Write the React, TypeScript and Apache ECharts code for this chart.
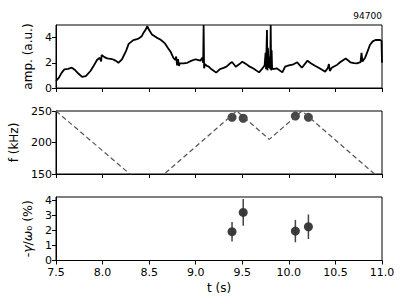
import React, { useEffect, useRef } from "react";
import * as echarts from "echarts";

const ampT = [7.5,7.53,7.56,7.59,7.63,7.67,7.70,7.74,7.78,7.82,7.87,7.90,7.94,7.97,7.985,7.99,8.02,8.05,8.10,8.14,8.17,8.21,8.25,8.28,8.33,8.36,8.39,8.42,8.44,8.46,8.48,8.50,8.53,8.58,8.62,8.67,8.70,8.73,8.76,8.78,8.79,8.80,8.81,8.82,8.83,8.87,8.91,8.95,9.0,9.05,9.07,9.08,9.085,9.09,9.10,9.12,9.14,9.17,9.22,9.26,9.30,9.33,9.36,9.39,9.43,9.47,9.50,9.54,9.57,9.62,9.68,9.71,9.73,9.74,9.75,9.755,9.765,9.77,9.775,9.785,9.79,9.80,9.805,9.81,9.815,9.82,9.83,9.87,9.93,9.96,10.0,10.05,10.09,10.14,10.2,10.24,10.28,10.32,10.36,10.39,10.42,10.43,10.44,10.46,10.48,10.52,10.55,10.61,10.66,10.70,10.73,10.77,10.78,10.79,10.82,10.85,10.87,10.90,10.93,10.98,10.995,11.0];
const ampV = [0.56,0.8,1.2,1.48,1.52,1.61,1.45,1.15,0.88,0.95,1.35,1.7,2.22,2.4,2.1,2.62,2.45,2.35,2.3,2.17,2.0,2.3,2.9,3.5,3.8,3.85,3.94,4.1,4.39,4.6,4.92,4.6,4.25,4.0,3.85,3.54,3.2,2.88,2.4,2.22,2.5,1.8,2.3,1.75,1.96,1.95,2.0,2.15,2.28,2.17,2.4,2.0,5.0,1.56,1.9,1.75,1.69,1.48,1.22,1.5,1.6,1.69,1.9,2.06,1.69,1.9,2.09,1.9,1.74,1.55,1.24,1.5,1.69,1.8,2.8,1.5,4.6,1.4,3.2,1.6,2.5,1.5,5.0,1.4,3.0,1.6,1.5,1.56,1.24,1.69,1.8,1.88,2.04,1.61,2.17,1.95,1.77,1.6,1.43,1.3,1.6,1.9,1.35,1.6,1.69,1.85,2.04,2.35,2.04,1.98,1.96,2.05,2.8,2.1,2.43,3.0,3.41,3.7,3.81,3.81,3.75,2.0];

const freqT = [7.5, 8.479, 9.44, 9.79, 10.14, 10.92];
const freqV = [250, 126.5, 250, 205, 250, 150];

const modeT = [9.39, 9.51, 10.07, 10.21];
const modeF = [240, 238.5, 242, 240];
const gamma = [1.93, 3.22, 1.97, 2.26];
const gammaErr = [0.65, 0.9, 0.75, 0.82];

const xTicks = [7.5, 8.0, 8.5, 9.0, 9.5, 10.0, 10.5, 11.0];
const ampTicks = [0, 2, 4];
const gammaTicks = [0, 1, 2, 3, 4];
const shotLabel = "94700";

const FONT = "DejaVu Sans";

export default function App() {
  const ref = useRef<HTMLDivElement>(null);
  useEffect(() => {
    if (!ref.current) return;
    const chart = echarts.init(ref.current, null, { renderer: "svg" });
    const gridL = 56, gridW = 326;
    const grids = [
      { left: gridL, top: 25, width: gridW, height: 63 },
      { left: gridL, top: 111, width: gridW, height: 63 },
      { left: gridL, top: 197, width: gridW, height: 63.5 },
    ].map((g) => ({ ...g, show: true, borderColor: "#000", borderWidth: 1, backgroundColor: "transparent" }));

    const axisLineS = { show: true, lineStyle: { color: "#000", width: 1 } };
    const tickS = { show: true, length: 4, inside: false, lineStyle: { color: "#000", width: 1 } };
    const lblS = { color: "#000", fontSize: 11, lineHeight: 10, fontFamily: FONT, margin: 4 };
    const nameStyle = { color: "#000", fontSize: 12, fontFamily: FONT };

    const mkX = (i: number, labels: boolean) => ({
      type: "value",
      gridIndex: i,
      min: 7.5,
      max: 11,
      interval: 0.5,
      axisLine: axisLineS,
      axisTick: { ...tickS, customValues: xTicks },
      axisLabel: labels
        ? { ...lblS, margin: 7, customValues: xTicks, formatter: (v: number) => v.toFixed(1) }
        : { show: false },
      splitLine: { show: false },
      ...(labels
        ? {
            name: "t (s)",
            nameLocation: "middle",
            nameGap: 21,
            nameTextStyle: nameStyle,
          }
        : {}),
    });

    const option: any = {
      animation: false,
      grid: grids,
      xAxis: [mkX(0, false), mkX(1, false), mkX(2, true)],
      yAxis: [
        {
          type: "value", gridIndex: 0, min: 0, max: 5,
          axisLine: axisLineS,
          axisTick: { ...tickS, customValues: ampTicks },
          axisLabel: { ...lblS, customValues: ampTicks },
          splitLine: { show: false },
          name: "amp. (a.u.)", nameLocation: "middle", nameGap: 17, nameTextStyle: nameStyle,
        },
        {
          type: "value", gridIndex: 1, min: 150, max: 250, interval: 50,
          axisLine: axisLineS,
          axisTick: tickS,
          axisLabel: lblS,
          splitLine: { show: false },
          name: "f (kHz)", nameLocation: "middle", nameGap: 29, nameTextStyle: nameStyle,
        },
        {
          type: "value", gridIndex: 2, min: 0, max: 4.25,
          axisLine: axisLineS,
          axisTick: { ...tickS, customValues: gammaTicks },
          axisLabel: { ...lblS, customValues: gammaTicks },
          splitLine: { show: false },
          name: "-{i|γ}/{i|ω}₀ (%)", nameLocation: "middle", nameGap: 17,
          nameTextStyle: { ...nameStyle, fontSize: 12.5, rich: { i: { fontStyle: "italic", fontSize: 12.5, fontFamily: FONT, color: "#000" } } },
        },
      ],
      graphic: [
        {
          type: "text",
          right: 25,
          top: 11,
          style: { text: shotLabel, fontSize: 9, fontFamily: FONT, fill: "#000" },
        },
      ],
      series: [
        {
          type: "line",
          xAxisIndex: 0, yAxisIndex: 0,
          data: ampT.map((t, i) => [t, ampV[i]]),
          showSymbol: false,
          symbol: "none",
          clip: true,
          lineStyle: { color: "#000", width: 1.8 },
        },
        {
          type: "line",
          xAxisIndex: 1, yAxisIndex: 1,
          data: freqT.map((t, i) => [t, freqV[i]]),
          showSymbol: false,
          symbol: "none",
          clip: true,
          lineStyle: { color: "#555", width: 1.2, type: [5, 3] },
        },
        {
          type: "scatter",
          xAxisIndex: 1, yAxisIndex: 1,
          data: modeT.map((t, i) => [t, modeF[i]]),
          symbolSize: 9,
          clip: false,
          itemStyle: { color: "#333", opacity: 0.9 },
        },
        {
          type: "custom",
          xAxisIndex: 2, yAxisIndex: 2,
          data: modeT.map((t, i) => [t, gamma[i] - gammaErr[i], gamma[i] + gammaErr[i]]),
          encode: { x: 0, y: [1, 2] },
          renderItem: (_p: any, api: any) => {
            const x = api.value(0);
            const a = api.coord([x, api.value(1)]);
            const b = api.coord([x, api.value(2)]);
            return {
              type: "line",
              shape: { x1: a[0], y1: a[1], x2: b[0], y2: b[1] },
              style: { stroke: "#444", lineWidth: 1.5 },
            };
          },
        },
        {
          type: "scatter",
          xAxisIndex: 2, yAxisIndex: 2,
          data: modeT.map((t, i) => [t, gamma[i]]),
          symbolSize: 9,
          itemStyle: { color: "#333", opacity: 0.95 },
        },
      ],
    };
    chart.setOption(option);
    return () => chart.dispose();
  }, []);
  return (
    <div
      ref={ref}
      style={{ position: "fixed", left: 0, top: 0, width: 407, height: 305, background: "#fff" }}
    />
  );
}
